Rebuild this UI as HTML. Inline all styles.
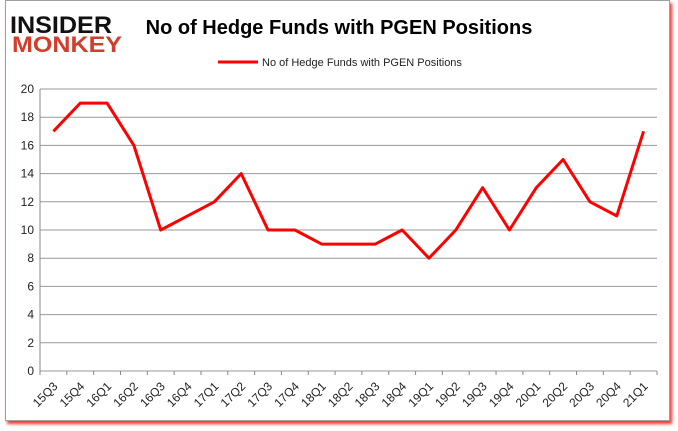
<!DOCTYPE html>
<html><head><meta charset="utf-8"><style>
body{margin:0;width:678px;height:431px;background:#fff;overflow:hidden;font-family:"Liberation Sans",sans-serif}
#frame{position:absolute;left:5px;top:0;width:663px;height:419px;border:1px solid #a0a0a0;box-shadow:2px 3px 3px #f33;background:#fff}
</style></head><body>
<div id="frame"></div>
<svg width="678" height="431" style="position:absolute;left:0;top:0" id="svg">
<g>
<text x="10" y="33" font-size="24" font-weight="bold" font-family="Liberation Sans" fill="#111" textLength="102" lengthAdjust="spacingAndGlyphs">INSIDER</text>
<text x="12" y="52" font-size="22" font-weight="bold" font-family="Liberation Sans" fill="#d33d2b" textLength="110" lengthAdjust="spacingAndGlyphs">MONKEY</text>
</g>
<text x="339" y="34" text-anchor="middle" font-size="20" font-weight="bold" fill="#000">No of Hedge Funds with PGEN Positions</text>
<g>
<line x1="218" y1="62" x2="258" y2="62" stroke="#f00" stroke-width="3"/>
<text x="262" y="66" font-size="11" fill="#222">No of Hedge Funds with PGEN Positions</text>
</g>
<g id="grid"></g><g id="axes"></g><g id="series"></g>
</svg>
<script>
const categories=["15Q3","15Q4","16Q1","16Q2","16Q3","16Q4","17Q1","17Q2","17Q3","17Q4","18Q1","18Q2","18Q3","18Q4","19Q1","19Q2","19Q3","19Q4","20Q1","20Q2","20Q3","20Q4","21Q1"];
const values=[17,19,19,16,10,11,12,14,10,10,9,9,9,10,8,10,13,10,13,15,12,11,17];
const yTicks=[0,2,4,6,8,10,12,14,16,18,20];
const NS="http://www.w3.org/2000/svg";
const L=40,R=657,T=89,B=371,ymax=20;
const bw=(R-L)/categories.length;
const xs=i=>L+bw*(i+0.5);
const ys=v=>B-(v/ymax)*(B-T);
function mk(t,a,p){const e=document.createElementNS(NS,t);for(const k in a)e.setAttribute(k,a[k]);p.appendChild(e);return e;}
const grid=document.getElementById('grid'),axes=document.getElementById('axes'),ser=document.getElementById('series');
yTicks.forEach(v=>{
 const g=mk('line',{x1:L,x2:R,y1:ys(v),y2:ys(v),stroke:'#999','stroke-width':1},grid);
 
 
 const t=mk('text',{x:L-6,y:ys(v)+4,'text-anchor':'end','font-size':12,fill:'#222'},axes);
 t.textContent=v;
 
 
});
const ax=mk('line',{x1:L,x2:L,y1:T,y2:B,stroke:'#888'},axes);


for(let i=0;i<=categories.length;i++){mk('line',{x1:L+bw*i,x2:L+bw*i,y1:B,y2:B+4,stroke:'#888'},axes);}
categories.forEach((c,i)=>{
 const x=xs(i)+5,y=B+16;
 const t=mk('text',{x:x,y:y,'text-anchor':'end','font-size':12,fill:'#222',transform:`rotate(-45 ${x} ${y})`},axes);
 t.textContent=c;
 
 
});
const p=mk('polyline',{points:values.map((v,i)=>xs(i)+','+ys(v)).join(' '),fill:'none',stroke:'#f00','stroke-width':3,'stroke-linejoin':'round'},ser);


</script>
</body></html>
